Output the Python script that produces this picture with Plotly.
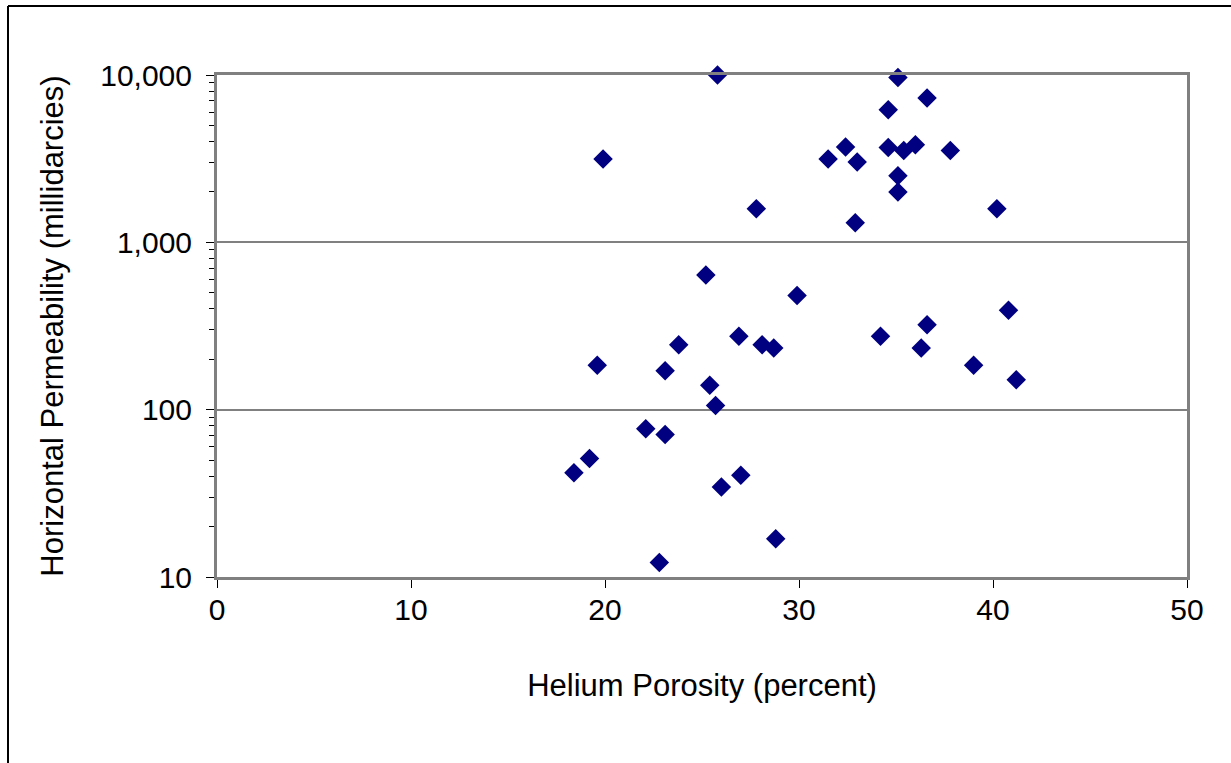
import plotly.graph_objects as go

# Helium porosity (percent) and horizontal permeability (millidarcies)
porosity = [19.9, 25.8, 35.1, 36.6, 34.6, 32.4, 31.5, 33.0, 34.6, 35.4,
            36.0, 37.8, 35.1, 35.1, 27.8, 32.9, 40.2, 25.2, 29.9, 40.8,
            36.6, 34.2, 26.9, 23.8, 28.1, 28.7, 36.3, 19.6, 23.1, 39.0,
            41.2, 25.4, 25.7, 22.1, 23.1, 19.2, 18.4, 27.0, 26.0, 28.8,
            22.8]
permeability = [3150, 10000, 9670, 7290, 6200, 3710, 3150, 3020, 3690, 3540,
                3830, 3540, 2500, 2000, 1590, 1310, 1590, 637, 481, 393,
                322, 275, 275, 244, 244, 234, 234, 184, 171, 184,
                151, 140, 106, 77, 71, 51, 42, 40.5, 34.5, 16.9,
                12.2]

x_ticks = [0, 10, 20, 30, 40, 50]
y_tickvals = [10, 100, 1000, 10000]
y_ticktext = ["10", "100", "1,000", "10,000"]

font_family = "Liberation Sans, Arial, sans-serif"

fig = go.Figure()
fig.add_trace(go.Scatter(
    x=porosity, y=permeability, mode="markers",
    marker=dict(symbol="diamond", size=15, color="#000080",
                line=dict(width=0)),
    cliponaxis=False, showlegend=False, hoverinfo="x+y",
))

fig.update_layout(
    width=1231, height=763,
    margin=dict(l=217, r=44, t=75, b=186),
    paper_bgcolor="white", plot_bgcolor="white",
    font=dict(family=font_family, size=30, color="black"),
    xaxis=dict(
        range=[0, 50], tickvals=x_ticks, ticks="outside", ticklen=8,
        tickwidth=1, tickcolor="black", showgrid=False, zeroline=False,
        showline=True, linecolor="#808080", linewidth=3, mirror=True,
        tickfont=dict(size=30), ticklabelstandoff=-4,
        title=dict(text="Helium Porosity (percent)", font=dict(size=31),
                   standoff=50),
    ),
    yaxis=dict(
        type="log", range=[1, 4], tickvals=y_tickvals, ticktext=y_ticktext,
        ticks="outside", ticklen=8, tickwidth=1, tickcolor="black",
        minor=dict(ticks="outside", ticklen=5, tickcolor="black",
                   tickvals=[v * m for v in [10, 100, 1000] for m in range(2, 10)],
                   showgrid=False),
        showgrid=True, gridcolor="#808080", gridwidth=2, zeroline=False,
        showline=True, linecolor="#808080", linewidth=3, mirror=True,
        tickfont=dict(size=30), ticklabelstandoff=8,
        title=dict(text="Horizontal Permeability (millidarcies)",
                   font=dict(size=31), standoff=28),
    ),
    shapes=[
        # outer chart frame (top and left edges)
        dict(type="line", xref="paper", yref="paper",
             x0=(8 - 217) / 970, x1=1.1, y0=(577 - 6) / 502, y1=(577 - 6) / 502,
             line=dict(color="black", width=2)),
        dict(type="line", xref="paper", yref="paper",
             x0=(8 - 217) / 970, x1=(8 - 217) / 970,
             y0=(577 - 6) / 502, y1=-0.5,
             line=dict(color="black", width=2)),
    ],
)

fig.write_html("out.html")
